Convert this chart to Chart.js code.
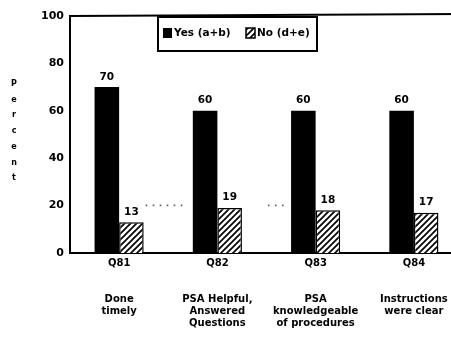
<!DOCTYPE html>
<html>
<head>
<meta charset="utf-8">
<script src="https://cdn.jsdelivr.net/npm/chart.js@4/dist/chart.umd.min.js"></script>
<style>
  html, body { margin: 0; padding: 0; overflow: hidden; background: #fff; }
  #wrap { width: 463px; height: 338px; }
</style>
</head>
<body>
<div id="wrap"><canvas id="c" width="463" height="338"></canvas></div>
<script>
// Survey items and their wording
const questions = ['Q81', 'Q82', 'Q83', 'Q84'];
const descriptions = [
  ['Done', 'timely'],
  ['PSA Helpful,', 'Answered', 'Questions'],
  ['PSA', 'knowledgeable', 'of procedures'],
  ['Instructions', 'were clear']
];
// Percent answering yes / no
const yesValues = [70, 60, 60, 60];
const noValues = [13, 19, 18, 17];
const seriesNames = ['Yes (a+b)', 'No (d+e)'];
const yMin = 0, yMax = 100, yStep = 20;
const axisTitle = 'Percent';

const FONT = '"DejaVu Sans", "Liberation Sans", sans-serif';
const canvas = document.getElementById('c');
const ctx = canvas.getContext('2d');

// Diagonal "///" hatch used for the No series
function makeHatch() {
  const s = 6;
  const p = document.createElement('canvas');
  p.width = s; p.height = s;
  const g = p.getContext('2d');
  g.fillStyle = '#fff';
  g.fillRect(0, 0, s, s);
  g.strokeStyle = '#000';
  g.lineWidth = 1.7;
  g.beginPath();
  g.moveTo(0, s); g.lineTo(s, 0);
  g.moveTo(-1, 1); g.lineTo(1, -1);
  g.moveTo(s - 1, s + 1); g.lineTo(s + 1, s - 1);
  g.stroke();
  return ctx.createPattern(p, 'repeat');
}
const hatch = makeHatch();

const labels = questions.map((q, i) => [q, '', ''].concat(descriptions[i]));

// Numbers printed above each bar
const valueLabels = {
  id: 'valueLabels',
  afterDatasetsDraw(chart) {
    const c = chart.ctx;
    c.save();
    c.fillStyle = '#000';
    c.font = 'bold 10.5px ' + FONT;
    c.textAlign = 'center';
    c.textBaseline = 'bottom';
    chart.data.datasets.forEach((ds, di) => {
      chart.getDatasetMeta(di).data.forEach((bar, i) => {
        c.fillText(String(ds.data[i]), bar.x, bar.y - 5);
      });
    });
    c.restore();
  }
};

// Faint dotted guide at the 20% level between groups
const guideLine = {
  id: 'guideLine',
  beforeDatasetsDraw(chart) {
    const c = chart.ctx;
    const y = chart.scales.y.getPixelForValue(20);
    const yes = chart.getDatasetMeta(0).data;
    const no = chart.getDatasetMeta(1).data;
    const segs = [
      [no[0].x + no[0].width / 2 + 2, yes[1].x - yes[1].width / 2 - 10],
      [no[1].x + no[1].width / 2 + 26, no[1].x + no[1].width / 2 + 40]
    ];
    c.save();
    c.fillStyle = '#555';
    segs.forEach(([a, b]) => {
      for (let x = a; x <= b; x += 7) c.fillRect(x, y - 1, 1.6, 1.6);
    });
    c.restore();
  }
};

// Top frame line, stacked axis title and boxed legend
const frame = {
  id: 'frame',
  afterDraw(chart) {
    const c = chart.ctx;
    const ca = chart.chartArea;
    c.save();
    c.strokeStyle = '#000';
    c.lineWidth = 2;
    c.beginPath();
    c.moveTo(ca.left - 1, ca.top);
    c.lineTo(chart.width, ca.top - 2);
    c.stroke();

    // vertical, letter-by-letter axis title
    c.fillStyle = '#000';
    c.font = 'bold 8px ' + FONT;
    c.textAlign = 'center';
    c.textBaseline = 'middle';
    const letters = axisTitle.split('');
    const y0 = ca.top + 68;
    letters.forEach((ch, i) => c.fillText(ch, 14, y0 + i * 15.7));

    // legend box
    const bx = ca.left + 88, by = ca.top + 1, bw = 159, bh = 34;
    c.lineWidth = 2;
    c.strokeRect(bx, by, bw, bh);
    const sy = by + 11, sz = 10;
    c.font = 'bold 10.5px ' + FONT;
    c.textAlign = 'left';
    // Yes swatch
    let x = bx + 5;
    c.fillStyle = chart.data.datasets[0].backgroundColor;
    c.fillRect(x, sy, sz - 1, sz);
    c.fillStyle = '#000';
    c.fillText(seriesNames[0], x + sz + 1, sy + sz / 2);
    // No swatch
    x = bx + 88;
    c.fillStyle = hatch;
    c.fillRect(x, sy, sz - 1, sz);
    c.lineWidth = 1.5;
    c.strokeRect(x, sy, sz - 1, sz);
    c.fillStyle = '#000';
    c.fillText(seriesNames[1], x + sz + 1, sy + sz / 2);
    c.restore();
  }
};

new Chart(canvas, {
  type: 'bar',
  data: {
    labels: labels,
    datasets: [
      {
        label: seriesNames[0],
        data: yesValues,
        backgroundColor: '#000',
        borderWidth: 0,
        categoryPercentage: 0.5,
        barPercentage: 1.0
      },
      {
        label: seriesNames[1],
        data: noValues,
        backgroundColor: hatch,
        borderColor: '#000',
        borderWidth: 1.5,
        categoryPercentage: 0.5,
        barPercentage: 1.0
      }
    ]
  },
  options: {
    responsive: false,
    animation: false,
    devicePixelRatio: 1,
    layout: { padding: { top: 16, left: 0, right: 0, bottom: 0 } },
    plugins: {
      legend: { display: false },
      title: { display: false },
      tooltip: { enabled: false }
    },
    scales: {
      x: {
        offset: true,
        grid: { display: false, drawTicks: false },
        border: { display: true, color: '#000', width: 2 },
        ticks: {
          color: '#000',
          font: { family: FONT, size: 10, weight: 'bold', lineHeight: 1.2 },
          padding: 4,
          autoSkip: false,
          maxRotation: 0,
          minRotation: 0
        },
        afterFit(s) { s.height = 85; }
      },
      y: {
        min: yMin,
        max: yMax,
        grid: { display: false, drawTicks: false },
        border: { display: true, color: '#000', width: 2 },
        ticks: {
          stepSize: yStep,
          color: '#000',
          font: { family: FONT, size: 11, weight: 'bold' },
          padding: 6
        },
        afterFit(s) { s.width = 70; }
      }
    }
  },
  plugins: [guideLine, valueLabels, frame]
});
</script>
</body>
</html>
